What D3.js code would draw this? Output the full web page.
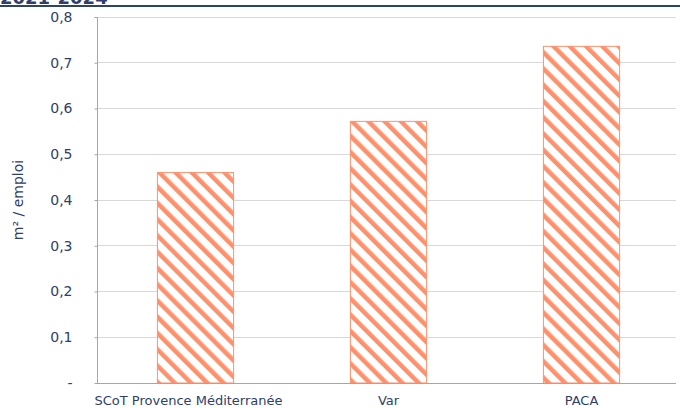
<!DOCTYPE html>
<html><head><meta charset="utf-8">
<script src="https://cdn.jsdelivr.net/npm/d3@7"></script>
<style>body{margin:0;background:#fff}svg{display:block}</style>
</head><body>
<script>
const categories = ["SCoT Provence Méditerranée", "Var", "PACA"];
const values = [0.461, 0.573, 0.737];
const yTicks = [0, 0.1, 0.2, 0.3, 0.4, 0.5, 0.6, 0.7, 0.8];
const title = "2021-2024";
const yTitle = "m² / emploi";

const W = 680, H = 408;
const navy = "#2f3e6b", orange = "#ff906c";
const font = "'DejaVu Sans', Verdana, sans-serif";
const svg = d3.select("body").append("svg").attr("width", W).attr("height", H);

const defs = svg.append("defs");
const pat = defs.append("pattern").attr("id", "hatch")
  .attr("patternUnits", "userSpaceOnUse").attr("width", 11.5).attr("height", 11.5)
  .attr("patternTransform", "rotate(-45)");
pat.append("rect").attr("width", 11.5).attr("height", 11.5).attr("fill", "#fff");
pat.append("rect").attr("x", 0).attr("width", 4.5).attr("height", 11.5).attr("fill", orange);

// title (cut off at top)
svg.append("text").attr("x", 0).attr("y", 4).attr("font-family", font)
  .attr("font-weight", "bold").attr("font-size", 18).attr("fill", navy).text(title);
svg.append("line").attr("x1", 0).attr("x2", W).attr("y1", 6).attr("y2", 6)
  .attr("stroke", "#2e4272").attr("stroke-width", 2);

const x = d3.scaleBand().domain(categories).range([99, 678]).paddingInner(0.6).paddingOuter(0.3);
const y = d3.scaleLinear().domain([0, 0.8]).range([383, 17]);

// gridlines
svg.append("g").selectAll("line").data(yTicks.filter(d => d > 0)).join("line")
  .attr("x1", 97).attr("x2", 676).attr("y1", d => y(d)).attr("y2", d => y(d))
  .attr("stroke", "#d9d9d9").attr("stroke-width", 1).attr("shape-rendering", "crispEdges");

// bars
svg.append("g").selectAll("rect").data(values).join("rect")
  .attr("x", (d, i) => x(categories[i]) + 0.5)
  .attr("y", d => y(d) + 0.5)
  .attr("width", x.bandwidth() - 1)
  .attr("height", d => y(0) - y(d) - 0.5)
  .attr("fill", "url(#hatch)").attr("stroke", orange).attr("stroke-width", 1);

// y axis
const yAxis = d3.axisLeft(y).tickValues(yTicks).tickSize(3).tickPadding(22)
  .tickFormat(d => d === 0 ? "-" : d3.format(".1f")(d).replace(".", ","));
const ga = svg.append("g").attr("transform", "translate(97.5,0)").call(yAxis);
ga.select(".domain").attr("stroke", "#a6a6a6").attr("d", "M-3,17.5H0V383");
ga.selectAll(".tick line").attr("stroke", "#a6a6a6");
ga.selectAll(".tick text").attr("fill", navy).attr("font-family", font).attr("font-size", 14);

// x baseline
svg.append("line").attr("x1", 97).attr("x2", 676).attr("y1", 383.5).attr("y2", 383.5)
  .attr("stroke", "#a6a6a6").attr("stroke-width", 1);

// x labels
const xAxis = d3.axisBottom(x).tickSize(0).tickPadding(13);
const gx = svg.append("g").attr("transform", "translate(0,383)").call(xAxis);
gx.select(".domain").remove();
gx.selectAll(".tick text").attr("fill", navy).attr("font-family", font).attr("font-size", 13)
  .attr("dx", (d, i) => i === 0 ? -7 : 0);

// y title
svg.append("text").attr("transform", "translate(23,200) rotate(-90)")
  .attr("text-anchor", "middle").attr("font-family", font).attr("font-size", 14)
  .attr("fill", navy).text(yTitle);
</script>
</body></html>
